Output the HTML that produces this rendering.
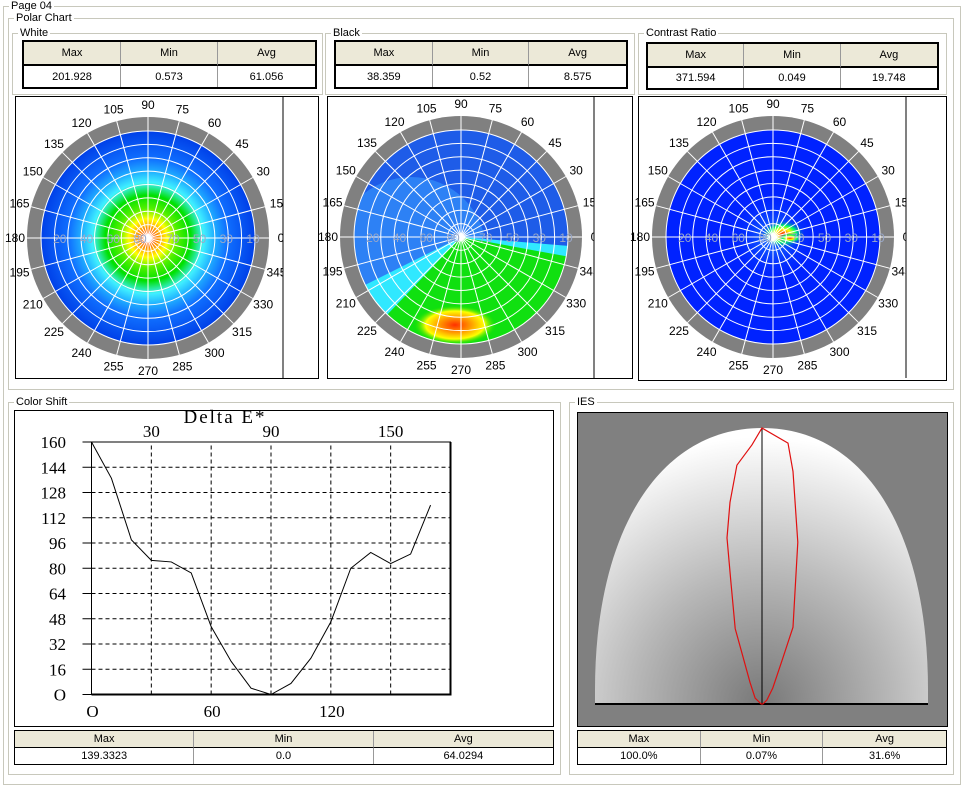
<!DOCTYPE html>
<html><head><meta charset="utf-8">
<style>
body{margin:0;width:963px;height:785px;background:#fff;position:relative;overflow:hidden;font-family:"Liberation Sans",sans-serif;font-size:11px;color:#000}
.gb{position:absolute;border:1px solid #c8c8bc;box-sizing:border-box}
.gb>span{position:absolute;top:-8px;left:5px;background:#fff;padding:0 2px;font-size:11px;line-height:14px}
.tbl{position:absolute;border:2px solid #000;box-sizing:border-box;display:grid;grid-template-columns:1fr 1fr 1fr;background:#fff}
.tbl div{display:flex;align-items:center;justify-content:center;font-size:11px;border-right:1px solid #999;box-sizing:border-box}
.tbl div.h{background:#ece9d8;border-bottom:2px solid #000}
.tbl div:nth-child(3n){border-right:none}
.box{position:absolute;border:1px solid #000;box-sizing:border-box;background:#fff}
svg{position:absolute;left:0;top:0}
</style></head><body>
<div class="gb" style="left:3px;top:6px;width:958px;height:779px"><span>Page 04</span></div>
<div class="gb" style="left:8px;top:18px;width:946px;height:372px"><span>Polar Chart</span></div>
<div class="gb" style="left:12px;top:33px;width:311px;height:62px"><span>White</span></div>
<div class="gb" style="left:325px;top:33px;width:310px;height:62px"><span>Black</span></div>
<div class="gb" style="left:638px;top:33px;width:309px;height:62px"><span>Contrast Ratio</span></div>

<div class="tbl" style="left:22px;top:40px;width:295px;height:49px;grid-template-rows:24px 21px"><div class="h">Max</div><div class="h">Min</div><div class="h">Avg</div><div>201.928</div><div>0.573</div><div>61.056</div></div>
<div class="tbl" style="left:334px;top:40px;width:294px;height:49px;grid-template-rows:24px 21px"><div class="h">Max</div><div class="h">Min</div><div class="h">Avg</div><div>38.359</div><div>0.52</div><div>8.575</div></div>
<div class="tbl" style="left:646px;top:42px;width:293px;height:48px;grid-template-rows:24px 20px"><div class="h">Max</div><div class="h">Min</div><div class="h">Avg</div><div>371.594</div><div>0.049</div><div>19.748</div></div>

<div class="box" style="left:15px;top:96px;width:304px;height:283px"></div>
<div class="box" style="left:327px;top:96px;width:306px;height:283px"></div>
<div class="box" style="left:638px;top:96px;width:309px;height:285px"></div>

<div class="gb" style="left:8px;top:402px;width:553px;height:373px"><span>Color Shift</span></div>
<div class="gb" style="left:569px;top:402px;width:385px;height:373px"><span>IES</span></div>
<div class="box" style="left:14px;top:410px;width:540px;height:317px"></div>
<div class="tbl" style="left:14px;top:730px;width:540px;height:35px;border-width:1px;grid-template-rows:17px 16px"><div class="h" style="border-bottom:1px solid #000">Max</div><div class="h" style="border-bottom:1px solid #000">Min</div><div class="h" style="border-bottom:1px solid #000">Avg</div><div>139.3323</div><div>0.0</div><div>64.0294</div></div>
<div class="box" style="left:577px;top:412px;width:371px;height:315px;background:#808080"></div>
<div class="tbl" style="left:577px;top:730px;width:370px;height:35px;border-width:1px;grid-template-rows:17px 16px"><div class="h" style="border-bottom:1px solid #000">Max</div><div class="h" style="border-bottom:1px solid #000">Min</div><div class="h" style="border-bottom:1px solid #000">Avg</div><div>100.0%</div><div>0.07%</div><div>31.6%</div></div>

<svg id="s" width="963" height="785" xmlns="http://www.w3.org/2000/svg">
<defs>
<radialGradient id="gW" cx="148" cy="238" r="107" gradientUnits="userSpaceOnUse">
<stop offset="0" stop-color="#ff2000"/><stop offset="0.08" stop-color="#ff8000"/><stop offset="0.18" stop-color="#ffff00"/><stop offset="0.28" stop-color="#50f000"/><stop offset="0.40" stop-color="#00e000"/><stop offset="0.52" stop-color="#40f0ff"/><stop offset="0.62" stop-color="#20b0ff"/><stop offset="0.74" stop-color="#1070ff"/><stop offset="1" stop-color="#0040e8"/></radialGradient>
<radialGradient id="gHot" cx="0.5" cy="0.5" r="0.5"><stop offset="0" stop-color="#ff3000"/><stop offset="0.4" stop-color="#ffa000"/><stop offset="0.7" stop-color="#ffff00"/><stop offset="1" stop-color="#00e000" stop-opacity="0"/></radialGradient>
<radialGradient id="gC" cx="0.5" cy="0.5" r="0.5"><stop offset="0" stop-color="#ff2000"/><stop offset="0.35" stop-color="#ffff00"/><stop offset="0.6" stop-color="#00ff60"/><stop offset="1" stop-color="#0030ff" stop-opacity="0"/></radialGradient>
<radialGradient id="gCb" cx="0.5" cy="0.5" r="0.5"><stop offset="0" stop-color="#30c0ff"/><stop offset="1" stop-color="#0022ff" stop-opacity="0"/></radialGradient>
<radialGradient id="gIES" cx="762" cy="704" r="290" gradientUnits="userSpaceOnUse"><stop offset="0" stop-color="#787878"/><stop offset="0.45" stop-color="#b8b8b8"/><stop offset="0.92" stop-color="#ffffff"/></radialGradient>
<clipPath id="cpB"><circle cx="461" cy="237" r="107"/></clipPath>
<clipPath id="cpC"><circle cx="773" cy="237" r="107"/></clipPath>
</defs>
<g id="polars"></g>
<g id="deltae"></g>
<g id="ies"></g>
</svg>
<script>
var NS="http://www.w3.org/2000/svg";
function mk(parent,tag,attrs){var e=document.createElementNS(NS,tag);for(var k in attrs)e.setAttribute(k,attrs[k]);parent.appendChild(e);return e;}

// ---------- Polar charts ----------
var polarAngles=[0,15,30,45,60,75,90,105,120,135,150,165,180,195,210,225,240,255,270,285,300,315,330,345];
var ringLabelsLeft=["20","40","60","80"];
var ringLabelsRight=["70","50","30","10"];
var polars=[
 {name:"white",cx:148,cy:238,clipR:283,boxR:318},
 {name:"black",cx:461,cy:237,clipR:594,boxR:632},
 {name:"contrast",cx:773,cy:237,clipR:906,boxR:946}
];
var P=document.getElementById('polars');
polars.forEach(function(p){
  var g=mk(P,'g',{});
  
  
  mk(g,'circle',{cx:p.cx,cy:p.cy,r:121,fill:'#808080'});
  if(p.name==='white'){mk(g,'circle',{cx:p.cx,cy:p.cy,r:107,fill:'url(#gW)'});}
  if(p.name==='black'){
    mk(g,'circle',{cx:p.cx,cy:p.cy,r:107,fill:'#1e5ce8'});
    var gb=mk(g,'g',{'clip-path':'url(#cpB)'});
    mk(gb,'circle',{cx:p.cx-50,cy:p.cy+15,r:75,fill:'#3aa0ff',opacity:0.55});
    mk(gb,'path',{d:'M'+p.cx+','+p.cy+' L'+(p.cx-120)+','+(p.cy+60)+' L'+(p.cx-60)+','+(p.cy+130)+' L'+(p.cx+120)+','+(p.cy+40)+' L'+(p.cx+120)+','+(p.cy+10)+' Z',fill:'#30e8ff'});
    mk(gb,'path',{d:'M'+p.cx+','+p.cy+' L'+(p.cx-95)+','+(p.cy+100)+' L'+(p.cx-10)+','+(p.cy+130)+' L'+(p.cx+120)+','+(p.cy+60)+' L'+(p.cx+120)+','+(p.cy+22)+' Z',fill:'#10e010'});
    mk(gb,'ellipse',{cx:p.cx-6,cy:p.cy+88,rx:42,ry:20,fill:'url(#gHot)'});
  }
  if(p.name==='contrast'){
    mk(g,'circle',{cx:p.cx,cy:p.cy,r:107,fill:'#0022ff'});
    var gc=mk(g,'g',{'clip-path':'url(#cpC)'});
    mk(gc,'circle',{cx:p.cx,cy:p.cy,r:45,fill:'url(#gCb)',opacity:0.6});
    mk(gc,'ellipse',{cx:p.cx+10,cy:p.cy-3,rx:22,ry:14,fill:'url(#gC)'});
    mk(gc,'ellipse',{cx:p.cx+17,cy:p.cy+1,rx:12,ry:5,fill:'url(#gC)'});
  }
  for(var i=1;i<=8;i++){mk(g,'circle',{cx:p.cx,cy:p.cy,r:i*107/8,fill:'none',stroke:'#fff','stroke-width':1});}
  polarAngles.forEach(function(a){
    var r=a*Math.PI/180;
    mk(g,'line',{x1:p.cx,y1:p.cy,x2:p.cx+121*Math.cos(r),y2:p.cy-121*Math.sin(r),stroke:'#fff','stroke-width':1});
    var lx=p.cx+133*Math.cos(r),ly=p.cy-133*Math.sin(r)+4;
    var t=mk(g,'text',{x:lx,y:ly,'font-size':12,'text-anchor':'middle','font-family':'Liberation Sans, sans-serif'});
    t.textContent=a;
    
    
  });
  ringLabelsLeft.forEach(function(l,i){var t=mk(g,'text',{x:p.cx-107+(i+1)*26.75-8,y:p.cy+5,'font-size':12,fill:'#9aa8c8','text-anchor':'middle'});t.textContent=l;});
  ringLabelsRight.forEach(function(l,i){var t=mk(g,'text',{x:p.cx+(i+1)*26.75-2,y:p.cy+5,'font-size':12,fill:'#9aa8c8','text-anchor':'middle'});t.textContent=l;});
  mk(g,'rect',{x:p.clipR,y:97,width:p.boxR-p.clipR-1,height:281,fill:'#fff'});
  mk(g,'line',{x1:p.clipR,y1:97,x2:p.clipR,y2:378,stroke:'#000'});
});

// ---------- Delta E chart ----------
var deAngles=[0,10,20,30,40,50,60,70,80,90,100,110,120,130,140,150,160,170];
var deValues=[160,137,98,85,84,77,43,21,4,0,7,23,46,80,90,83,89,120];
var deYTicks=[0,16,32,48,64,80,96,112,128,144,160];
var deXTop=[30,90,150];
var deXBottom=[0,60,120];
var deXGrid=[30,60,90,120,150];
var X0=91.5,XS=(450.5-91.5)/180,Y0=694.5,YS=(694.5-442)/160;
function dx(v){return X0+v*XS;}
function dy(v){return Y0-v*YS;}
var D=document.getElementById('deltae');
var tt=mk(D,'text',{x:225,y:423,'font-size':19,'font-family':'Liberation Serif, serif','text-anchor':'middle','letter-spacing':'2'});tt.textContent='Delta E*';

deYTicks.forEach(function(v){
  if(v>0&&v<160)mk(D,'line',{x1:dx(0),y1:dy(v),x2:dx(180),y2:dy(v),stroke:'#000','stroke-dasharray':'4,3'});
  mk(D,'line',{x1:dx(0)-9,y1:dy(v),x2:dx(0),y2:dy(v),stroke:'#000'});
  var t=mk(D,'text',{x:66,y:dy(v)+6,'font-size':17,'font-family':'Liberation Serif, serif','text-anchor':'end'});t.textContent=(v===0?'O':v);
  
});
deXGrid.forEach(function(v){mk(D,'line',{x1:dx(v),y1:dy(0),x2:dx(v),y2:dy(160),stroke:'#000','stroke-dasharray':'4,3'});});
deXTop.forEach(function(v){var t=mk(D,'text',{x:dx(v),y:437,'font-size':17,'font-family':'Liberation Serif, serif','text-anchor':'middle'});t.textContent=v;
  });
deXBottom.forEach(function(v){var t=mk(D,'text',{x:dx(v)+1,y:717,'font-size':17,'font-family':'Liberation Serif, serif','text-anchor':'middle'});t.textContent=(v===0?'O':v);
  });
mk(D,'rect',{x:dx(0),y:dy(160),width:dx(180)-dx(0),height:dy(0)-dy(160),fill:'none',stroke:'#000','stroke-width':1});
mk(D,'line',{x1:dx(0),y1:dy(0),x2:dx(180)+1,y2:dy(0),stroke:'#000','stroke-width':2});
mk(D,'line',{x1:dx(180),y1:dy(160),x2:dx(180),y2:dy(0),stroke:'#000','stroke-width':2});
var pts=deAngles.map(function(a,i){return dx(a)+','+dy(deValues[i]);}).join(' ');
var pl=mk(D,'polyline',{points:pts,fill:'none',stroke:'#000','stroke-width':1});


// ---------- IES ----------
var I=document.getElementById('ies');
var dome=mk(I,'path',{d:'M595,704 L595,690 C595,530 660,428 762,428 C864,428 928,530 928,690 L928,704 Z',fill:'url(#gIES)'});

mk(I,'line',{x1:595,y1:704,x2:928,y2:704,stroke:'#000','stroke-width':2});
mk(I,'line',{x1:762,y1:428,x2:762,y2:704,stroke:'#000','stroke-width':1});
// polar intensity: angle from vertical (deg, negative = left) and relative intensity
var iesAngles=[0,5.7,7.6,12.5,22,24.5,34,51,90,-90,-49,-29,-19.6,-14.3,-11.9,-9,-6,-2.2];
var iesValues=[1.0,0.95,0.85,0.60,0.30,0.18,0.07,0.023,0.003,0.003,0.033,0.09,0.29,0.456,0.615,0.74,0.87,0.94];
var R=276;
var ip=iesAngles.map(function(a,i){var r=a*Math.PI/180;return (762+R*iesValues[i]*Math.sin(r)).toFixed(1)+','+(704-R*iesValues[i]*Math.cos(r)).toFixed(1);}).join(' ');
var ipg=mk(I,'polygon',{points:ip,fill:'none',stroke:'#e01010','stroke-width':1.2});

</script>
</body></html>
